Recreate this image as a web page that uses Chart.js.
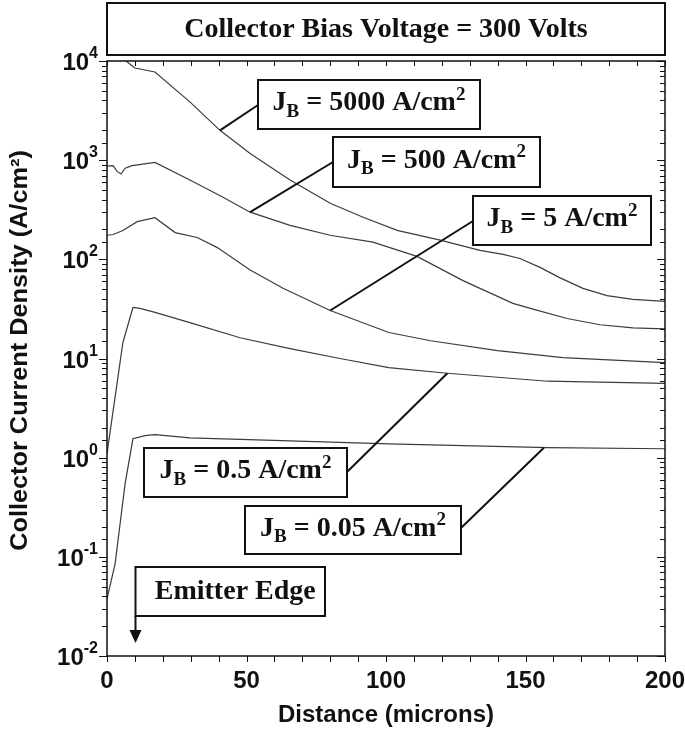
<!DOCTYPE html>
<html>
<head>
<meta charset="utf-8">
<script src="https://cdn.jsdelivr.net/npm/chart.js@4.4.1/dist/chart.umd.min.js"></script>
<style>
  html, body { margin: 0; padding: 0; background: #fff; }
</style>
</head>
<body>
<canvas id="currentChart" width="685" height="734"></canvas>
<script>
// Distance (microns) / collector current density (A/cm2)
const dist5000 = [0, 6.8, 10, 17.2, 29.7, 40.5, 51.3, 65.6, 80, 91.8, 104, 119.4, 133.7, 142, 148, 155.2, 162.4, 170.6, 179.2, 188.5, 200];
const jc5000   = [14000, 10000, 8500, 7750, 3870, 2000, 1170, 630, 368, 266, 196, 156, 123, 112, 102, 83, 65, 51, 43, 39.4, 37.7];

const dist500 = [0, 2.2, 3.6, 5, 6.5, 9, 17.2, 29.7, 41.6, 51.3, 65.6, 80, 95.3, 111.1, 127.6, 145.5, 152.7, 164.9, 176.7, 188.5, 200];
const jc500   = [870, 880, 770, 725, 830, 880, 950, 630, 423, 299, 220, 175, 149, 107, 61, 36, 31.5, 25.3, 21.9, 20.4, 19.9];

const dist5 = [0, 2.2, 5.7, 10.8, 17.2, 24.4, 32.3, 39.4, 51.3, 63.1, 80, 101, 116, 140, 163.4, 200];
const jc5   = [175, 178, 195, 240, 263, 186, 166, 132, 78, 51, 30.5, 18.3, 15.1, 12, 10.2, 9.1];

const dist05 = [0, 5.7, 9.3, 11.8, 17.2, 29.7, 47.7, 65.6, 83.5, 101, 122, 158, 200];
const jc05   = [1.1, 14.5, 32.7, 32, 29.2, 23, 16.2, 12.6, 10, 8.1, 7.1, 5.9, 5.6];

const dist005 = [0, 2.9, 6.5, 9.3, 13.6, 17.2, 29.7, 65.6, 101, 158, 200];
const jc005   = [0.0377, 0.085, 0.55, 1.55, 1.67, 1.71, 1.58, 1.48, 1.38, 1.26, 1.23];

// base current labels and where each leader touches its curve (micron, A/cm2)
const baseLabels = ['5000', '500', '5', '0.5', '0.05'];
const leaderX = [40.5, 51.3, 80, 122, 156.6];
const leaderY = [2000, 299, 30.5, 7.1, 1.26];

const xTickLabels = [0, 50, 100, 150, 200];
const yExponents = [-2, -1, 0, 1, 2, 3, 4];
const emitterEdgeX = 10;

const chartTitle = 'Collector Bias Voltage = 300 Volts';
const yTitle = 'Collector Current Density (A/cm²)';

function toPoints(xs, ys) {
    return xs.map((x, i) => ({ x: x, y: ys[i] }));
}

const serif = "bold 28px 'Liberation Serif', 'Times New Roman', serif";
const sans = "'Liberation Sans', Arial, sans-serif";

// box geometry for the annotations (canvas pixels)
const boxes = [
    { l: 258, t: 80, r: 480, b: 129, ax: 258, ay: 105 },
    { l: 333, t: 137, r: 540, b: 187, ax: 333, ay: 162 },
    { l: 473, t: 196, r: 651, b: 245, ax: 473, ay: 221 },
    { l: 144, t: 448, r: 347, b: 497, ax: 347, ay: 472 },
    { l: 245, t: 506, r: 461, b: 554, ax: 461, ay: 528 }
];

// draws J_B = ... A/cm^2 with sub/superscripts centred on (cx, cy)
function drawRich(c, parts, cx, cy, size) {
    const small = Math.round(size * 0.68);
    let total = 0;
    parts.forEach(p => {
        c.font = 'bold ' + (p.sub || p.sup ? small : size) + "px 'Liberation Serif', 'Times New Roman', serif";
        p.w = c.measureText(p.t).width;
        total += p.w;
    });
    let x = cx - total / 2;
    const base = cy + size * 0.32;
    c.textAlign = 'left';
    c.textBaseline = 'alphabetic';
    parts.forEach(p => {
        c.font = 'bold ' + (p.sub || p.sup ? small : size) + "px 'Liberation Serif', 'Times New Roman', serif";
        let y = base;
        if (p.sub) y += size * 0.22;
        if (p.sup) y -= size * 0.38;
        c.fillText(p.t, x, y);
        x += p.w;
    });
}

const decorPlugin = {
    id: 'decor',
    afterDraw(chart) {
        const c = chart.ctx;
        const area = chart.chartArea;
        const xs = chart.scales.x;
        const ys = chart.scales.y;
        c.save();
        c.strokeStyle = '#111';
        c.fillStyle = '#111';

        // frame
        c.lineWidth = 1.5;
        c.strokeRect(area.left, area.top, area.right - area.left, area.bottom - area.top);

        // x ticks: outward at bottom, inward at top
        c.lineWidth = 1;
        xs.ticks.forEach(t => {
            const px = Math.round(xs.getPixelForValue(t.value)) + 0.5;
            c.beginPath();
            c.moveTo(px, area.bottom);
            c.lineTo(px, area.bottom + 6);
            c.moveTo(px, area.top);
            c.lineTo(px, area.top + 5);
            c.stroke();
        });

        // y ticks: outward at left, inward at right
        ys.ticks.forEach(t => {
            const lg = Math.log10(t.value);
            const major = Math.abs(lg - Math.round(lg)) < 1e-6;
            const len = major ? 8 : 5;
            const py = Math.round(ys.getPixelForValue(t.value)) + 0.5;
            c.beginPath();
            c.moveTo(area.left - len, py);
            c.lineTo(area.left, py);
            c.moveTo(area.right - len, py);
            c.lineTo(area.right, py);
            c.stroke();
        });

        // y tick labels 10^n
        yExponents.forEach(e => {
            const py = ys.getPixelForValue(Math.pow(10, e));
            c.font = 'bold 24px ' + sans;
            const expText = String(e);
            const bw = c.measureText('10').width;
            c.font = 'bold 16px ' + sans;
            const ew = c.measureText(expText).width;
            const right = area.left - 9;
            c.textBaseline = 'alphabetic';
            c.textAlign = 'left';
            c.font = 'bold 24px ' + sans;
            c.fillText('10', right - ew - bw, py + 9);
            c.font = 'bold 16px ' + sans;
            c.fillText(expText, right - ew, py - 3);
        });

        // y axis title, slightly stretched along its length like the original
        c.save();
        c.translate(21, (area.top + area.bottom) / 2 - 8);
        c.rotate(-Math.PI / 2);
        c.scale(1.1, 1);
        c.font = 'bold 23px ' + sans;
        c.textAlign = 'center';
        c.textBaseline = 'middle';
        c.fillText(yTitle, 0, 0);
        c.restore();

        // title box
        c.lineWidth = 2;
        c.strokeRect(area.left, 3, area.right - area.left, 52);
        c.font = serif;
        c.textAlign = 'center';
        c.textBaseline = 'middle';
        c.fillText(chartTitle, (area.left + area.right) / 2, 30);

        // labelled leaders
        boxes.forEach((b, i) => {
            c.lineWidth = 2;
            c.beginPath();
            c.moveTo(xs.getPixelForValue(leaderX[i]), ys.getPixelForValue(leaderY[i]));
            c.lineTo(b.ax, b.ay);
            c.stroke();
            c.fillStyle = '#fff';
            c.fillRect(b.l, b.t, b.r - b.l, b.b - b.t);
            c.fillStyle = '#111';
            c.strokeRect(b.l, b.t, b.r - b.l, b.b - b.t);
            drawRich(c, [
                { t: 'J' }, { t: 'B', sub: true },
                { t: ' = ' + baseLabels[i] + ' A/cm' }, { t: '2', sup: true }
            ], (b.l + b.r) / 2, (b.t + b.b) / 2 - 3, 28);
        });

        // emitter edge marker
        const ex = Math.round(xs.getPixelForValue(emitterEdgeX)) + 0.5;
        c.lineWidth = 2;
        c.strokeRect(ex, 567, 325 - ex, 49);
        c.beginPath();
        c.moveTo(ex, 616);
        c.lineTo(ex, 632);
        c.stroke();
        c.beginPath();
        c.moveTo(ex - 6, 630);
        c.lineTo(ex + 6, 630);
        c.lineTo(ex, 643);
        c.closePath();
        c.fill();
        c.font = serif;
        c.textAlign = 'center';
        c.textBaseline = 'middle';
        c.fillText('Emitter Edge', (ex + 325) / 2 + 5, 592);

        c.restore();
    }
};

const lineColor = '#3c3c3c';
const series = [
    toPoints(dist5000, jc5000),
    toPoints(dist500, jc500),
    toPoints(dist5, jc5),
    toPoints(dist05, jc05),
    toPoints(dist005, jc005)
];

const ctx = document.getElementById('currentChart').getContext('2d');
new Chart(ctx, {
    type: 'line',
    data: {
        datasets: series.map((pts, i) => ({
            label: 'JB = ' + baseLabels[i] + ' A/cm2',
            data: pts,
            borderColor: lineColor,
            borderWidth: 1.2,
            pointRadius: 0,
            tension: 0,
            fill: false
        }))
    },
    options: {
        responsive: false,
        animation: false,
        layout: { padding: { top: 61, right: 20, left: 0, bottom: 0 } },
        plugins: {
            legend: { display: false },
            tooltip: { enabled: false }
        },
        scales: {
            x: {
                type: 'linear',
                min: 0,
                max: 200,
                grid: { display: false },
                border: { display: false },
                ticks: {
                    stepSize: 10,
                    autoSkip: false,
                    maxRotation: 0,
                    padding: 3,
                    color: '#111',
                    font: { family: sans, size: 24, weight: 'bold' },
                    callback: v => xTickLabels.includes(v) ? String(v) : ''
                },
                title: {
                    display: true,
                    text: 'Distance (microns)',
                    color: '#111',
                    font: { family: sans, size: 24, weight: 'bold' },
                    padding: { top: 0, bottom: 4 }
                },
                afterFit: s => {
                    s.height = 78;
                    s.paddingLeft = 0;
                    s.paddingRight = 0;
                }
            },
            y: {
                type: 'logarithmic',
                min: 0.01,
                max: 10000,
                grid: { display: false },
                border: { display: false },
                ticks: { autoSkip: false, callback: () => '' },
                afterFit: s => {
                    s.width = 107;
                    s.paddingTop = 0;
                    s.paddingBottom = 0;
                }
            }
        }
    },
    plugins: [decorPlugin]
});
</script>
</body>
</html>
